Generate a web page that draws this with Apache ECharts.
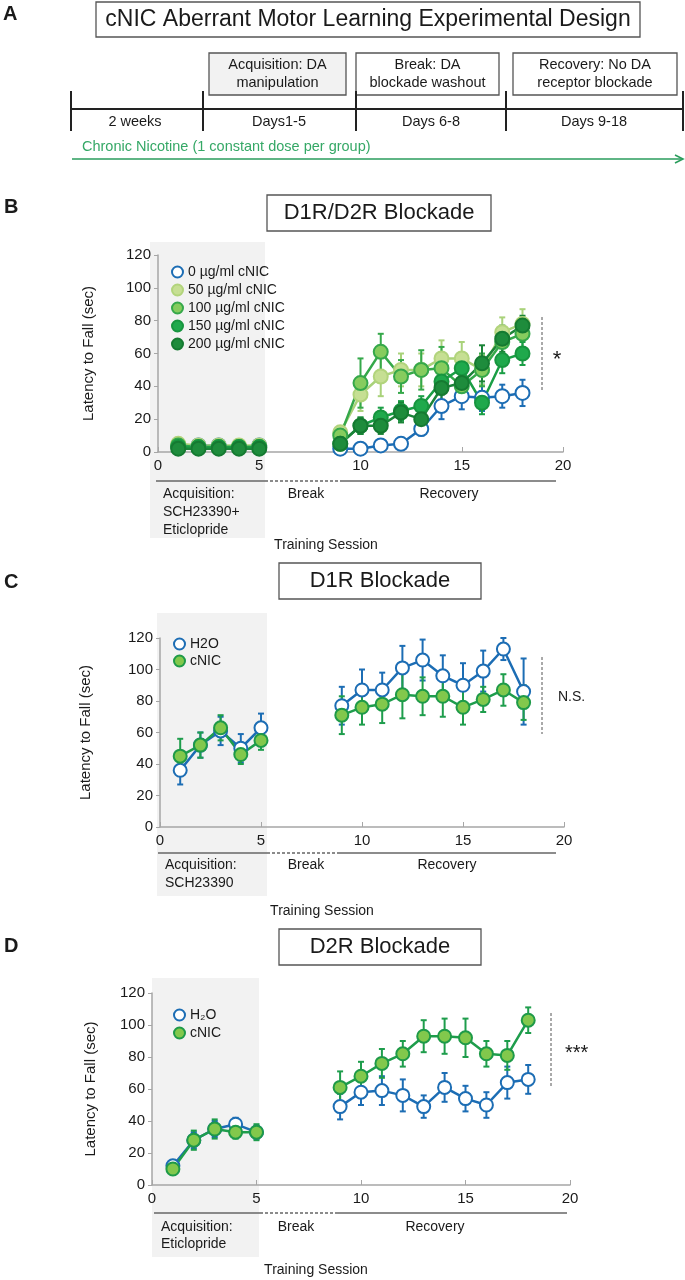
<!DOCTYPE html>
<html>
<head>
<meta charset="utf-8">
<script src="https://cdn.jsdelivr.net/npm/echarts@6/dist/echarts.min.js"></script>
<style>
  html, body { margin: 0; padding: 0; background: #fff; }
  #main { width: 685px; height: 1280px; }
</style>
</head>
<body>
<div id="main"></div>
<script>
// training sessions (6-8 = break, no test)
const sessions = [1, 2, 3, 4, 5, 6, 7, 8, 9, 10, 11, 12, 13, 14, 15, 16, 17, 18];
const xTickStep = 5;
const yTickStep = 20;

// panel B : D1R/D2R blockade, 5 nicotine doses
const bNames = ['0 µg/ml cNIC', '50 µg/ml cNIC', '100 µg/ml cNIC', '150 µg/ml cNIC', '200 µg/ml cNIC'];
const bMean0   = [4, 4, 4, 3, 4, null, null, null, 2, 2, 4, 5, 14, 28, 34, 33, 34, 36];
const bErr0    = [1, 1, 1, 1, 1, null, null, null, 1, 1, 2, 2, 4, 8, 8, 8, 7, 8];
const bMean50  = [5, 4, 4, 4, 4, null, null, null, 12, 35, 46, 50, 50, 57, 57, 50, 73, 78];
const bErr50   = [1, 1, 1, 1, 1, null, null, null, 3, 10, 12, 10, 10, 11, 10, 9, 9, 9];
const bMean100 = [4, 3, 3, 3, 3, null, null, null, 10, 42, 61, 46, 50, 51, 40, 50, 67, 72];
const bErr100  = [1, 1, 1, 1, 1, null, null, null, 3, 15, 11, 10, 12, 13, 9, 10, 9, 9];
const bMean150 = [3, 3, 3, 3, 3, null, null, null, 5, 16, 21, 25, 28, 43, 51, 30, 56, 60];
const bErr150  = [1, 1, 1, 1, 1, null, null, null, 2, 5, 6, 6, 6, 8, 7, 7, 8, 7];
const bMean200 = [2, 2, 2, 2, 2, null, null, null, 5, 16, 16, 24, 20, 39, 42, 54, 69, 77];
const bErr200  = [1, 1, 1, 1, 1, null, null, null, 2, 5, 5, 6, 6, 9, 8, 11, 8, 6];

// panel C : D1R blockade
const cH2O    = [36, 52, 61, 50, 63, null, null, null, 77, 87, 87, 101, 106, 96, 90, 99, 113, 86];
const cH2OErr = [9, 8, 9, 9, 9, null, null, null, 12, 13, 11, 14, 13, 13, 14, 13, 7, 21];
const cNic    = [45, 52, 63, 46, 55, null, null, null, 71, 76, 78, 84, 83, 83, 76, 81, 87, 79];
const cNicErr = [11, 8, 8, 6, 6, null, null, null, 12, 11, 12, 15, 12, 13, 11, 8, 10, 11];

// panel D : D2R blockade
const dH2O    = [12, 28, 35, 38, 33, null, null, null, 49, 58, 59, 56, 49, 61, 54, 50, 64, 66];
const dH2OErr = [3, 5, 5, 4, 4, null, null, null, 8, 8, 9, 10, 7, 9, 8, 8, 10, 9];
const dNic    = [10, 28, 35, 33, 33, null, null, null, 61, 68, 76, 82, 93, 93, 92, 82, 81, 103];
const dNicErr = [3, 6, 6, 4, 5, null, null, null, 10, 9, 9, 8, 10, 11, 12, 8, 9, 8];

const FONT = '"Liberation Sans", Arial, sans-serif';
const INK = '#1a1a1a';
const AXIS = '#a6a6a6';
const BLUE = '#1c6db4';

let chart = echarts.init(document.getElementById('main'));

function xAx(gi) {
  return {
    type: 'value', gridIndex: gi, min: 0, max: 20, interval: xTickStep,
    axisLine: { show: true, onZero: false, lineStyle: { color: AXIS, width: 1.5 } },
    axisTick: { show: true, inside: true, length: 5, lineStyle: { color: AXIS } },
    axisLabel: { fontSize: 15, color: INK, fontFamily: FONT, margin: 6 },
    splitLine: { show: false }
  };
}
function yAx(gi, gap) {
  return {
    type: 'value', gridIndex: gi, min: 0, max: 120, interval: yTickStep,
    name: 'Latency to Fall (sec)', nameLocation: 'middle', nameGap: gap,
    nameTextStyle: { fontSize: 15, color: INK, fontFamily: FONT },
    axisLine: { show: true, lineStyle: { color: AXIS, width: 1.5 } },
    axisTick: { show: true, length: 4, lineStyle: { color: AXIS } },
    axisLabel: { fontSize: 15, color: INK, fontFamily: FONT, margin: 7 },
    splitLine: { show: false }
  };
}

function lineSer(name, gi, means, sty) {
  return {
    type: 'line', name: name, xAxisIndex: gi, yAxisIndex: gi,
    data: sessions.map((s, i) => [s, means[i] == null ? '-' : means[i]]),
    connectNulls: false,
    symbol: 'circle', symbolSize: sty.size,
    lineStyle: { color: sty.line, width: 2.5 },
    itemStyle: { color: sty.fill, borderColor: sty.border, borderWidth: 2 },
    emphasis: { disabled: true },
    z: 3
  };
}
function errSer(gi, means, errs, color) {
  let d = [];
  sessions.forEach((s, i) => { if (means[i] != null) d.push([s, means[i], errs[i]]); });
  return {
    type: 'custom', xAxisIndex: gi, yAxisIndex: gi, data: d,
    encode: { x: 0, y: 1 },
    renderItem: function (params, api) {
      let x = api.value(0), y = api.value(1), e = api.value(2);
      let top = api.coord([x, y + e]);
      let bot = api.coord([x, y - e]);
      let st = { stroke: color, lineWidth: 2 };
      return {
        type: 'group', children: [
          { type: 'line', shape: { x1: top[0], y1: top[1], x2: bot[0], y2: bot[1] }, style: st },
          { type: 'line', shape: { x1: top[0] - 3, y1: top[1], x2: top[0] + 3, y2: top[1] }, style: st },
          { type: 'line', shape: { x1: bot[0] - 3, y1: bot[1], x2: bot[0] + 3, y2: bot[1] }, style: st }
        ]
      };
    },
    silent: true,
    z: 2
  };
}

// styles
const sBlue = { fill: '#fff', border: BLUE, line: BLUE, size: 14 };
const s50   = { fill: '#c6df93', border: '#b2d47c', line: '#a9d27a', size: 14 };
const s100  = { fill: '#86cc5e', border: '#35a84a', line: '#35a84a', size: 14 };
const s150  = { fill: '#1fa94c', border: '#17953f', line: '#1a9e45', size: 14 };
const s200  = { fill: '#1e8c3c', border: '#157a31', line: '#1b8438', size: 14 };
const sNic  = { fill: '#82c84c', border: '#1e9a48', line: '#1e9d4c', size: 13 };
const sH2O  = { fill: '#fff', border: BLUE, line: BLUE, size: 13 };

// graphic helpers
function txt(x, y, t, size, opt) {
  opt = opt || {};
  return {
    type: 'text', x: x, y: y, z: 10,
    style: {
      text: t, fill: opt.fill || INK,
      font: (opt.bold ? 'bold ' : '') + size + 'px ' + FONT,
      textAlign: opt.align || 'center', textVerticalAlign: 'middle'
    }
  };
}
function box(x, y, w, h, fill) {
  return { type: 'rect', z: 5, shape: { x: x, y: y, width: w, height: h },
    style: { fill: fill || 'none', stroke: '#555', lineWidth: 1.3 } };
}
function ln(x1, y1, x2, y2, color, w, dash) {
  return { type: 'line', z: 5, shape: { x1: x1, y1: y1, x2: x2, y2: y2 },
    style: { stroke: color, lineWidth: w, lineDash: dash || null } };
}
function shade(x, y, w, h) {
  return { type: 'rect', z: -10, shape: { x: x, y: y, width: w, height: h },
    style: { fill: '#f2f2f2' }, silent: true };
}

let g = [];
// ---- panel A
g.push(txt(3, 14, 'A', 20, { bold: true, align: 'left' }));
g.push(box(96, 2, 544, 35));
g.push(txt(368, 20, 'cNIC Aberrant Motor Learning Experimental Design', 23));
g.push(box(209, 53, 137, 42, '#f2f2f2'));
g.push(txt(277.5, 65, 'Acquisition: DA', 14.5));
g.push(txt(277.5, 83, 'manipulation', 14.5));
g.push(box(356, 53, 143, 42));
g.push(txt(427.5, 65, 'Break: DA', 14.5));
g.push(txt(427.5, 83, 'blockade washout', 14.5));
g.push(box(513, 53, 164, 42));
g.push(txt(595, 65, 'Recovery: No DA', 14.5));
g.push(txt(595, 83, 'receptor blockade', 14.5));
g.push(ln(71, 109, 683, 109, '#222', 2));
[71, 203, 356, 506, 683].forEach(x => g.push(ln(x, 91, x, 131, '#222', 2)));
g.push(txt(135, 122, '2 weeks', 14.5));
g.push(txt(279, 122, 'Days1-5', 14.5));
g.push(txt(431, 122, 'Days 6-8', 14.5));
g.push(txt(594, 122, 'Days 9-18', 14.5));
g.push(txt(82, 147, 'Chronic Nicotine (1 constant dose per group)', 14.5, { align: 'left', fill: '#35a866' }));
g.push(ln(72, 159, 682, 159, '#2a9d5c', 1.6));
g.push({ type: 'polyline', z: 5, shape: { points: [[675, 155], [683, 159], [675, 163]] },
  style: { stroke: '#2a9d5c', lineWidth: 1.6, fill: 'none' } });

// ---- panel B
g.push(txt(4, 207, 'B', 20, { bold: true, align: 'left' }));
g.push(box(267, 195, 224, 36));
g.push(txt(379, 213, 'D1R/D2R Blockade', 22));
g.push(shade(150, 242, 115, 296));
g.push(ln(156, 481, 265, 481, '#666', 1.5));
g.push(ln(265, 481, 342, 481, '#666', 1.5, [3, 2]));
g.push(ln(342, 481, 556, 481, '#666', 1.5));
g.push(txt(163, 494, 'Acquisition:', 14, { align: 'left' }));
g.push(txt(163, 512, 'SCH23390+', 14, { align: 'left' }));
g.push(txt(163, 530, 'Eticlopride', 14, { align: 'left' }));
g.push(txt(306, 494, 'Break', 14));
g.push(txt(449, 494, 'Recovery', 14));
g.push(txt(326, 545, 'Training Session', 14));
g.push(ln(542, 317, 542, 392, '#555', 1, [3, 2]));
g.push(txt(557, 360, '*', 22));

// ---- panel C
g.push(txt(4, 582, 'C', 20, { bold: true, align: 'left' }));
g.push(box(279, 563, 202, 36));
g.push(txt(380, 581, 'D1R Blockade', 22));
g.push(shade(157, 613, 110, 283));
g.push(ln(158, 853, 267, 853, '#666', 1.5));
g.push(ln(267, 853, 340, 853, '#666', 1.5, [3, 2]));
g.push(ln(340, 853, 556, 853, '#666', 1.5));
g.push(txt(165, 865, 'Acquisition:', 14, { align: 'left' }));
g.push(txt(165, 883, 'SCH23390', 14, { align: 'left' }));
g.push(txt(306, 865, 'Break', 14));
g.push(txt(447, 865, 'Recovery', 14));
g.push(txt(322, 911, 'Training Session', 14));
g.push(ln(542, 657, 542, 734, '#555', 1, [3, 2]));
g.push(txt(558, 697, 'N.S.', 14, { align: 'left' }));

// ---- panel D
g.push(txt(4, 946, 'D', 20, { bold: true, align: 'left' }));
g.push(box(279, 929, 202, 36));
g.push(txt(380, 947, 'D2R Blockade', 22));
g.push(shade(152, 978, 107, 279));
g.push(ln(154, 1213, 260, 1213, '#666', 1.5));
g.push(ln(260, 1213, 335, 1213, '#666', 1.5, [3, 2]));
g.push(ln(335, 1213, 567, 1213, '#666', 1.5));
g.push(txt(161, 1227, 'Acquisition:', 14, { align: 'left' }));
g.push(txt(161, 1244, 'Eticlopride', 14, { align: 'left' }));
g.push(txt(296, 1227, 'Break', 14));
g.push(txt(435, 1227, 'Recovery', 14));
g.push(txt(316, 1270, 'Training Session', 14));
g.push(ln(551, 1013, 551, 1087, '#555', 1, [3, 2]));
g.push(txt(565, 1053, '***', 20, { align: 'left' }));

const legendText = { fontSize: 14, color: INK, fontFamily: FONT };

chart.setOption({
  animation: false,
  backgroundColor: '#fff',
  grid: [
    { left: 158, top: 255, width: 405, height: 197 },
    { left: 160, top: 638, width: 404, height: 189 },
    { left: 152, top: 993, width: 418, height: 192 }
  ],
  xAxis: [xAx(0), xAx(1), xAx(2)],
  yAxis: [yAx(0, 62), yAx(1, 67), yAx(2, 54)],
  legend: [
    { data: bNames, orient: 'vertical', left: 166, top: 260, icon: 'circle',
      itemWidth: 11, itemHeight: 11, itemGap: 4, textStyle: legendText, selectedMode: false },
    { data: ['H2O', 'cNIC'], orient: 'vertical', left: 168, top: 632, icon: 'circle',
      itemWidth: 11, itemHeight: 11, itemGap: 3, textStyle: legendText, selectedMode: false },
    { data: ['H₂O', 'cNIC '], orient: 'vertical', left: 168, top: 1003, icon: 'circle',
      itemWidth: 11, itemHeight: 11, itemGap: 4, textStyle: legendText, selectedMode: false }
  ],
  series: [
    errSer(0, bMean0, bErr0, BLUE),
    errSer(0, bMean50, bErr50, s50.line),
    errSer(0, bMean100, bErr100, s100.line),
    errSer(0, bMean150, bErr150, s150.line),
    errSer(0, bMean200, bErr200, s200.line),
    lineSer(bNames[0], 0, bMean0, sBlue),
    lineSer(bNames[1], 0, bMean50, s50),
    lineSer(bNames[2], 0, bMean100, s100),
    lineSer(bNames[3], 0, bMean150, s150),
    lineSer(bNames[4], 0, bMean200, s200),

    errSer(1, cH2O, cH2OErr, BLUE),
    errSer(1, cNic, cNicErr, sNic.line),
    lineSer('H2O', 1, cH2O, sH2O),
    lineSer('cNIC', 1, cNic, sNic),

    errSer(2, dH2O, dH2OErr, BLUE),
    errSer(2, dNic, dNicErr, sNic.line),
    lineSer('H₂O', 2, dH2O, sH2O),
    lineSer('cNIC ', 2, dNic, sNic)
  ],
  graphic: { elements: g }
});
</script>
</body>
</html>
